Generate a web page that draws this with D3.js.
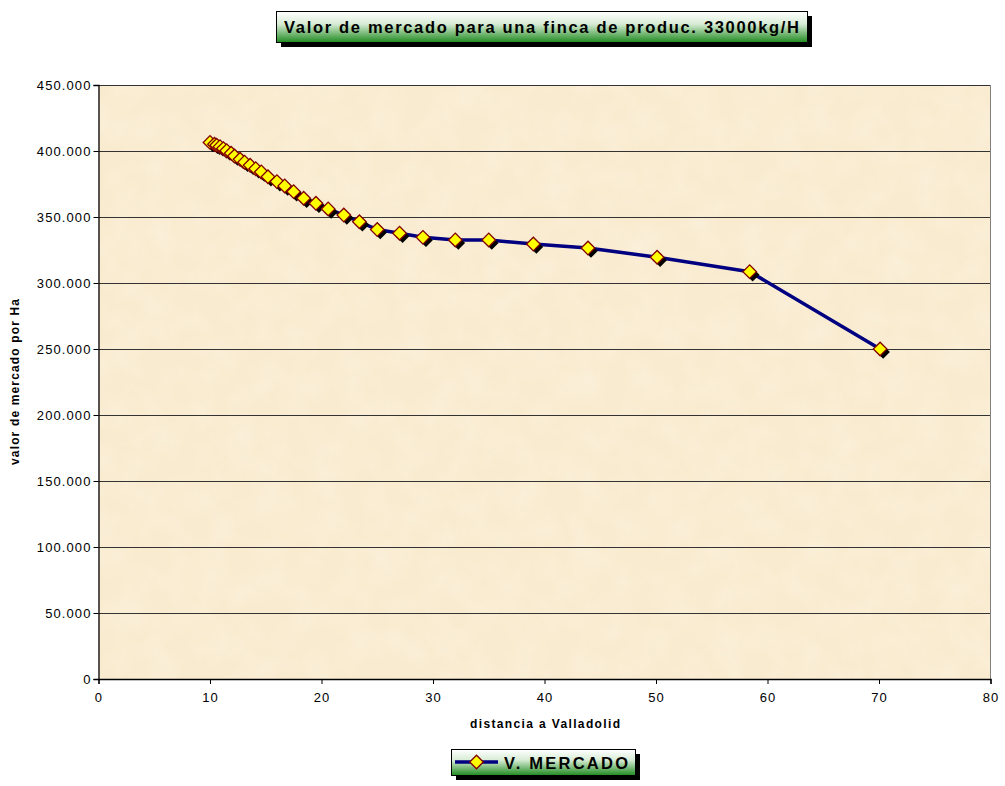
<!DOCTYPE html>
<html><head><meta charset="utf-8">
<script src="https://cdn.jsdelivr.net/npm/d3@7"></script>
<style>body{margin:0;background:#fff} text{font-family:"Liberation Sans",Arial,sans-serif}</style>
</head><body><svg id="c" width="1005" height="786"></svg>
<script>
const distancia = [10.0,10.4,10.6,10.9,11.2,11.5,11.9,12.2,12.7,13.1,13.6,14.1,14.6,15.2,16.0,16.7,17.5,18.4,19.5,20.6,22.0,23.4,25.0,27.0,29.1,32.0,35.0,39.0,43.9,50.1,58.4,70.1];
const valor = [406500,405100,404300,403300,401800,400200,398300,396200,393700,391500,389200,386600,384100,380500,376800,373500,369200,364200,360400,356100,351500,346400,340500,337700,334600,332600,332600,329500,326500,319500,308600,250000];
const xTicks = [0,10,20,30,40,50,60,70,80];
const yTicks = [0,50000,100000,150000,200000,250000,300000,350000,400000,450000];
const titulo = "Valor de mercado para una finca de produc. 33000kg/H";
const tituloX = "distancia a Valladolid";
const tituloY = "valor de mercado por Ha";
const serie = "V. MERCADO";

const svg = d3.select("#c");
const L=98.5, R=990.5, T=85, B=679;
const x = d3.scaleLinear().domain([0,80]).range([L,R]);
const y = d3.scaleLinear().domain([0,450000]).range([B,T]);
const loc = d3.formatLocale({decimal:",",thousands:".",grouping:[3],currency:["",""]});
const fmt = loc.format(",");

const defs = svg.append("defs");
const g1 = defs.append("linearGradient").attr("id","gr").attr("x1",0).attr("y1",0).attr("x2",0).attr("y2",1);
g1.append("stop").attr("offset","0%").attr("stop-color","#ffffff");
g1.append("stop").attr("offset","40%").attr("stop-color","#d8ecd6");
g1.append("stop").attr("offset","100%").attr("stop-color","#1f8a1f");
const f = defs.append("filter").attr("id","tex").attr("x",0).attr("y",0).attr("width","100%").attr("height","100%");
f.append("feTurbulence").attr("type","fractalNoise").attr("baseFrequency","0.035").attr("numOctaves",4).attr("seed",3);
f.append("feColorMatrix").attr("values","0 0 0 0 1  0 0 0 0 1  0 0 0 0 1  0 0 0 0.35 -0.12");
defs.append("clipPath").attr("id","cp").append("rect").attr("x",L).attr("y",T).attr("width",R-L).attr("height",B-T);

// plot background
svg.append("rect").attr("x",L).attr("y",T).attr("width",R-L).attr("height",B-T).attr("fill","#f9ebcf");
svg.append("rect").attr("x",L).attr("y",T).attr("width",R-L).attr("height",B-T).attr("filter","url(#tex)");

// gridlines
svg.append("g").selectAll("line").data(yTicks.filter(d=>d>0)).join("line")
  .attr("x1",L).attr("x2",R).attr("y1",d=>Math.round(y(d))+0.5).attr("y2",d=>Math.round(y(d))+0.5)
  .attr("stroke","#333").attr("stroke-width",1);
svg.append("line").attr("x1",R).attr("x2",R).attr("y1",T).attr("y2",B).attr("stroke","#808080");

// axes
const yAx = svg.append("g").attr("transform",`translate(${L},0)`)
  .call(d3.axisLeft(y).tickValues(yTicks).tickFormat(fmt).tickSize(5).tickPadding(3));
const xAx = svg.append("g").attr("transform",`translate(0,${B})`)
  .call(d3.axisBottom(x).tickValues(xTicks).tickSize(5).tickPadding(9));
[yAx,xAx].forEach(a=>{
  a.selectAll("path").attr("stroke","#000").attr("stroke-width",1.3);
  a.selectAll("line").attr("stroke","#000");
  a.selectAll("text").attr("font-size",13).attr("fill","#000").attr("letter-spacing",1.1)
    .attr("font-family","Liberation Sans, Arial, sans-serif");
});
yAx.selectAll("text").attr("dx",1);

// line
const pts = distancia.map((d,i)=>[d,valor[i]]);
const pg = svg.append("g").attr("clip-path","url(#cp)");
pg.append("path").datum(pts).attr("fill","none").attr("stroke","#000080").attr("stroke-width",3.5)
  .attr("stroke-linejoin","round").attr("d",d3.line().x(d=>x(d[0])).y(d=>y(d[1])));
const sym = d3.symbol().type(d3.symbolSquare).size(92);
const mk = svg.append("g");
pts.forEach(d=>{
  mk.append("path").attr("d",sym()).attr("transform",`translate(${x(d[0])+3},${y(d[1])+3}) rotate(45)`).attr("fill","#000");
  mk.append("path").attr("d",sym()).attr("transform",`translate(${x(d[0])},${y(d[1])}) rotate(45)`)
    .attr("fill","#ffff00").attr("stroke","#800000").attr("stroke-width",1.3);
});

// axis titles
svg.append("text").attr("x",545).attr("y",728).attr("text-anchor","middle").attr("font-size",12)
  .attr("font-weight","bold").attr("textLength",150).attr("lengthAdjust","spacing").text(tituloX);
svg.append("text").attr("transform","translate(19,382) rotate(-90)").attr("text-anchor","middle").attr("font-size",12)
  .attr("font-weight","bold").attr("textLength",166).attr("lengthAdjust","spacing").text(tituloY);

// title box
svg.append("rect").attr("x",281).attr("y",16).attr("width",531).attr("height",31).attr("fill","#000");
svg.append("rect").attr("x",276.5).attr("y",11.5).attr("width",531).attr("height",31).attr("fill","url(#gr)").attr("stroke","#000");
svg.append("text").attr("x",284).attr("y",32.5).attr("font-size",16.5).attr("font-weight","bold")
  .attr("textLength",515).attr("lengthAdjust","spacing").text(titulo);

// legend
svg.append("rect").attr("x",456).attr("y",754).attr("width",184).attr("height",26).attr("fill","#000");
svg.append("rect").attr("x",451.5).attr("y",749.5).attr("width",184).attr("height",26).attr("fill","url(#gr)").attr("stroke","#000");
svg.append("line").attr("x1",455).attr("x2",498).attr("y1",762).attr("y2",762).attr("stroke","#000080").attr("stroke-width",3.5);
svg.append("path").attr("d",sym()).attr("transform","translate(476.5,762) rotate(45)")
  .attr("fill","#ffff00").attr("stroke","#800000").attr("stroke-width",1.3);
svg.append("text").attr("x",504).attr("y",768.5).attr("font-size",16.5).attr("font-weight","bold")
  .attr("textLength",124).attr("lengthAdjust","spacing").text(serie);
</script></body></html>
